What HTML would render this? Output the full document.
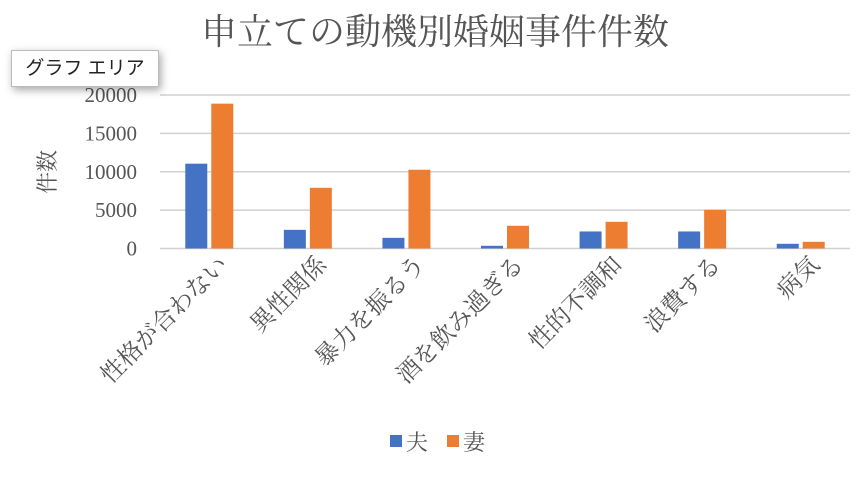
<!DOCTYPE html>
<html><head><meta charset="utf-8"><style>
body{margin:0;background:#fff;}
svg text{font-family:"Liberation Serif","Noto Serif CJK JP","Noto Serif CJK SC",serif;}
#tip{position:absolute;left:11px;top:50px;width:146px;height:35px;background:#fff;border:1px solid #bbb;box-shadow:2px 3px 8px rgba(0,0,0,.35);font-family:"Liberation Sans","Noto Sans CJK JP",sans-serif;font-size:19px;line-height:35px;text-align:center;color:#222;}
</style></head><body>
<svg id="c" width="864" height="480" xmlns="http://www.w3.org/2000/svg">
<text x="435" y="44" font-size="36" fill="#555" text-anchor="middle">申立ての動機別婚姻事件件数</text>
<text transform="translate(55,172) rotate(-90)" font-size="22" fill="#555" text-anchor="middle">件数</text>
<g id="grid"></g><g id="bars"></g><g id="xl"></g>
<g>
<rect x="390" y="435" width="12" height="12" fill="#4472c4"/>
<text x="406" y="450" font-size="22" fill="#555">夫</text>
<rect x="447" y="435" width="12" height="12" fill="#ed7d31"/>
<text x="463" y="450" font-size="22" fill="#555">妻</text>
</g>
</svg>
<div id="tip">グラフ エリア</div>
<script>
const categories=["性格が合わない","異性関係","暴力を振るう","酒を飲み過ぎる","性的不調和","浪費する","病気"];
const husband=[11050,2430,1390,350,2220,2220,610];
const wife=[18870,7910,10260,2960,3480,5040,870];
const ticks=[0,5000,10000,15000,20000];
const NS="http://www.w3.org/2000/svg";
const x0=160,x1=850,y0=248.5,yTop=95,maxV=20000;
const y=v=>y0-(v/maxV)*(y0-yTop);
const bw=(x1-x0)/categories.length;
const cx=i=>x0+bw*(i+0.5);
function mk(t,a,p){const e=document.createElementNS(NS,t);for(const k in a)e.setAttribute(k,a[k]);p.appendChild(e);return e;}
const g=document.getElementById('grid'),b=document.getElementById('bars'),xl=document.getElementById('xl');
ticks.forEach(t=>{
 const l=mk('line',{x1:x0,x2:x1,y1:y(t),y2:y(t),stroke:'#d0d0d0','stroke-width':1.5},g);
 
 
 const tx=mk('text',{x:137,y:y(t)+7,'font-size':21,fill:'#555','text-anchor':'end'},g);
 tx.textContent=t;
 
 
});
categories.forEach((c,i)=>{
 const r1=mk('rect',{x:cx(i)-24,y:y(husband[i]),width:22,height:y0-y(husband[i]),fill:'#4472c4'},b);
 
 
 const r2=mk('rect',{x:cx(i)+2,y:y(wife[i]),width:22,height:y0-y(wife[i]),fill:'#ed7d31'},b);
 
 
 const t=mk('text',{transform:`translate(${cx(i)+20},${266}) rotate(-45)`,'font-size':24,fill:'#555','text-anchor':'end'},xl);
 t.textContent=c;
 
 
});
</script>
</body></html>
